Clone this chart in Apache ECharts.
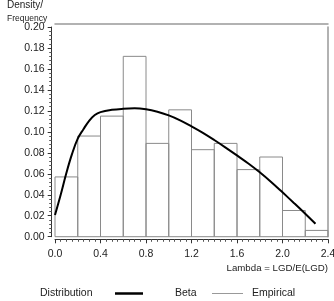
<!DOCTYPE html>
<html><head><meta charset="utf-8">
<script src="https://cdn.jsdelivr.net/npm/echarts@6/dist/echarts.min.js"></script>
<style>html,body{margin:0;padding:0;background:#fff}#c{width:334px;height:301px}</style>
</head><body><div id="c"></div>
<script>
// Histogram bins (Empirical)
const binStart = [0.0,0.2,0.4,0.6,0.8,1.0,1.2,1.4,1.6,1.8,2.0,2.2];
const binEnd   = [0.2,0.4,0.6,0.8,1.0,1.2,1.4,1.6,1.8,2.0,2.2,2.4];
const binFreq  = [0.057,0.096,0.115,0.172,0.089,0.121,0.083,0.089,0.064,0.076,0.025,0.006];
// Beta density curve
const betaX = [0.0,0.05,0.1,0.15,0.2,0.25,0.3,0.35,0.4,0.5,0.6,0.7,0.8,0.9,1.0,1.1,1.2,1.3,1.4,1.5,1.6,1.7,1.8,1.9,2.0,2.1,2.2,2.29];
const betaY = [0.0207,0.040,0.0608,0.079,0.0935,0.1025,0.1105,0.1160,0.1188,0.1210,0.1220,0.1224,0.1215,0.1192,0.1157,0.1110,0.1052,0.0990,0.0922,0.0850,0.0775,0.0698,0.0614,0.0522,0.0423,0.0322,0.0219,0.0123];
// Axis ticks
const xTicks = [0.0,0.4,0.8,1.2,1.6,2.0,2.4];
const yTicks = [0.00,0.02,0.04,0.06,0.08,0.10,0.12,0.14,0.16,0.18,0.20];

const FONT = 'Liberation Sans';
const chart = echarts.init(document.getElementById('c'), null, {renderer:'canvas'});
const histData = binStart.map((s,i)=>[s, binEnd[i], binFreq[i]]);
const lineData = betaX.map((x,i)=>[x, betaY[i]]);

chart.setOption({
  animation:false,
  textStyle:{fontFamily:FONT},
  grid:{left:55, right:6, top:27, bottom:64.3, containLabel:false, outerBoundsMode:'none'},
  title:[
    {text:'Density/', left:2, top:-5, textStyle:{fontFamily:FONT, fontSize:10, fontWeight:'normal', color:'#222'}},
    {text:'Frequency', left:2, top:9, textStyle:{fontFamily:FONT, fontSize:8.5, fontWeight:'normal', color:'#222'}},
    {text:'Distribution', left:40, top:288, padding:0, textStyle:{fontFamily:FONT, fontSize:10.5, fontWeight:'normal', color:'#222'}}
  ],
  legend:[
    {data:[{name:'Beta', icon:'rect', itemStyle:{color:'#000'}}], left:115, top:288, padding:0, itemWidth:28, itemHeight:2.5,
     textStyle:{fontFamily:FONT, fontSize:10.5, color:'#222', padding:[0,0,0,27]}},
    {data:[{name:'Empirical', icon:'rect', itemStyle:{color:'#999', borderWidth:0}}], left:212, top:288, padding:0, itemWidth:31, itemHeight:1,
     textStyle:{fontFamily:FONT, fontSize:10.5, color:'#222', padding:[0,0,0,4]}}
  ],
  xAxis:[
    {type:'value', min:0, max:2.4, interval:0.4, position:'bottom', offset:2.6,
     axisLine:{show:true, onZero:false, lineStyle:{color:'#333', width:1}},
     axisTick:{show:true, inside:false, length:4, lineStyle:{color:'#333'}},
     minorTick:{show:true, splitNumber:8, length:2.5, lineStyle:{color:'#555'}},
     splitLine:{show:false},
     axisLabel:{fontFamily:FONT, fontSize:10.5, color:'#222', margin:9,
       formatter:v=>{const t=xTicks.find(k=>Math.abs(k-v)<1e-9); return t===undefined?'':t.toFixed(1);}},
     name:'Lambda = LGD/E(LGD)', nameLocation:'end', nameGap:0, nameMoveOverlap:false,
     nameTextStyle:{fontFamily:FONT, fontSize:9.7, color:'#222', align:'right', verticalAlign:'top', padding:[24,0,0,0]}
    },
    {type:'value', min:0, max:2.4, position:'top', offset:3.7,
     axisLine:{show:true, onZero:false, lineStyle:{color:'#999', width:1.5}},
     axisTick:{show:false}, axisLabel:{show:false}, splitLine:{show:false}}
  ],
  yAxis:[
    {type:'value', min:0, max:0.2, interval:0.02, position:'left', offset:3.3,
     axisLine:{show:true, onZero:false, lineStyle:{color:'#333', width:1}},
     axisTick:{show:true, inside:false, length:4, lineStyle:{color:'#333'}},
     minorTick:{show:true, splitNumber:5, length:2.5, lineStyle:{color:'#555'}},
     splitLine:{show:false},
     axisLabel:{fontFamily:FONT, fontSize:10.5, color:'#222', margin:7,
       formatter:v=>{const t=yTicks.find(k=>Math.abs(k-v)<1e-9); return t===undefined?'':t.toFixed(2);}}
    },
    {type:'value', min:0, max:0.2, position:'right', offset:0,
     axisLine:{show:true, onZero:false, lineStyle:{color:'#999', width:1.5}},
     axisTick:{show:false}, axisLabel:{show:false}, splitLine:{show:false}}
  ],
  series:[
    {name:'Empirical', type:'custom', xAxisIndex:0, yAxisIndex:0, data:histData,
     encode:{x:[0,1], y:2},
     itemStyle:{color:'#999'},
     renderItem:(params, api)=>{
       const p0 = api.coord([api.value(0), api.value(2)]);
       const p1 = api.coord([api.value(1), 0]);
       return {type:'rect', shape:{x:p0[0], y:p0[1], width:p1[0]-p0[0], height:p1[1]-p0[1]},
               style:{fill:'none', stroke:'#8a8a8a', lineWidth:1}};
     }},
    {name:'Beta', type:'line', xAxisIndex:0, yAxisIndex:0, data:lineData, smooth:0.4,
     symbol:'none', lineStyle:{color:'#000', width:2}, itemStyle:{color:'#000'}, z:3}
  ]
});
</script></body></html>
